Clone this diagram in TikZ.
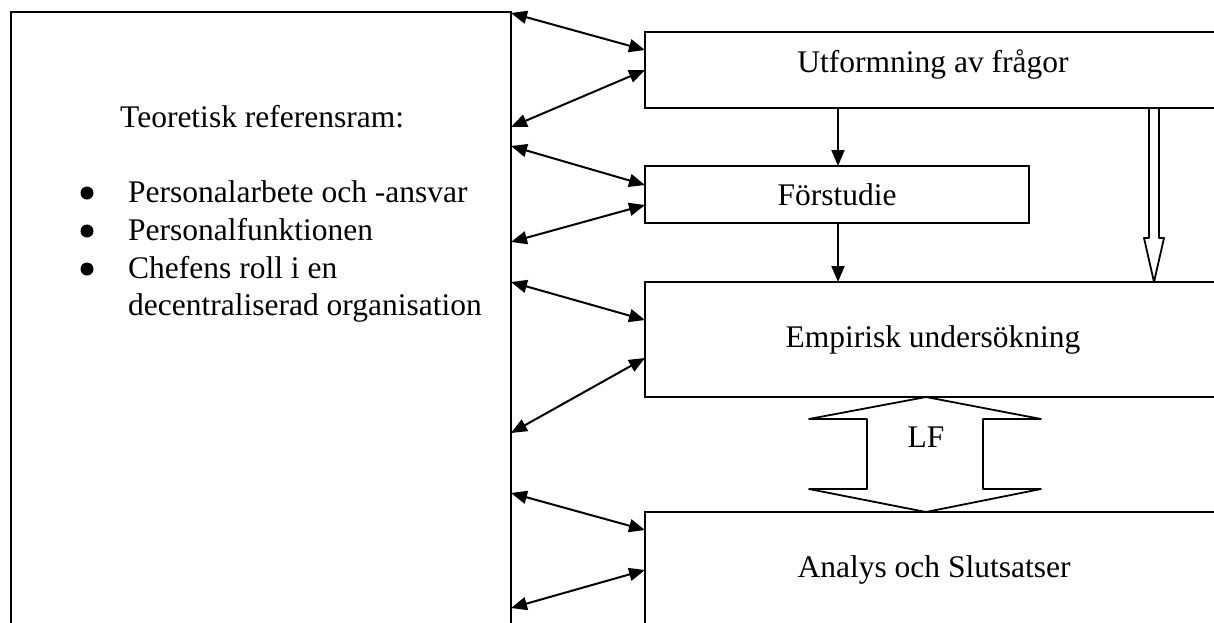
\documentclass[tikz,border=0pt]{standalone}
\usepackage{fontspec}
\setmainfont{Liberation Serif}
\usetikzlibrary{arrows.meta,calc}
\tikzset{>={Triangle[length=16pt,width=13pt]}}
\tikzset{ruta/.style={draw, rectangle, line width=2pt, anchor=north west, inner sep=0pt, outer sep=0pt},
         txt/.style={font=\fontsize{31.5}{37.8}\selectfont, anchor=base, inner sep=0pt},
         punkt/.style={circle, fill, inner sep=0pt, minimum size=13pt}}

\begin{document}
\begin{tikzpicture}[x=1pt,y=-1pt]
\useasboundingbox (0,0) rectangle (1214,622);
\node[ruta, minimum width=500pt, minimum height=640pt] (ram) at (11,12) {};
\node[ruta, minimum width=580pt, minimum height=76pt] (utf) at (645,32) {};
\node[ruta, minimum width=384pt, minimum height=57pt] (for) at (645,166) {};
\node[ruta, minimum width=580pt, minimum height=115pt] (emp) at (645,282) {};
\node[ruta, minimum width=580pt, minimum height=140pt] (ana) at (645,512) {};
\node[txt, anchor=base west] (titel) at (120,127) {Teoretisk referensram:};
\foreach \y in {202,240,278}
  \node[punkt] (b\y) at (87,\y-9) {};
\foreach \y/\t in {202/Personalarbete och -ansvar, 240/Personalfunktionen, 278/Chefens roll i en, 315/decentraliserad organisation}
  \node[txt, anchor=base west] (p\y) at (128,\y) {\t};
\node[txt] (utf-t) at (933,72) {Utformning av frågor};
\node[txt] (for-t) at (837,205) {Förstudie};
\node[txt] (emp-t) at (933,347) {Empirisk undersökning};
\node[txt] (ana-t) at (934,577) {Analys och Slutsatser};
\node[txt] (lf) at (926,447) {LF};
\begin{scope}[line width = 2pt]
\foreach \a/\b/\n in {13/50/utf, 127/70/utf, 146/185/for, 242/205/for, 282/320/emp, 433/358/emp, 493/530/ana, 608/570/ana}
  \draw[<->] (ram.east |- 0,\a) -- (\n.west |- 0,\b);
\draw[->] (838,0 |- utf.south) -- (838,0 |- for.north);
\draw[->] (838,0 |- for.south) -- (838,0 |- emp.north);
\end{scope}
\begin{scope}[line width = 1.8pt, line join = round]
\draw (1149,0 |- utf.south) -- (1149,238) -- (1144,238) -- (1154,0 |- emp.north)
  -- (1164,238) -- (1159,238) -- (1159,0 |- utf.south);
\draw (926,0 |- emp.south) -- (1041,419) -- (983,419) -- (983,489) -- (1041,489)
  -- (926,0 |- ana.north) -- (809,489) -- (867,489) -- (867,419) -- (809,419) -- cycle;
\end{scope}
\end{tikzpicture}
\end{document}
